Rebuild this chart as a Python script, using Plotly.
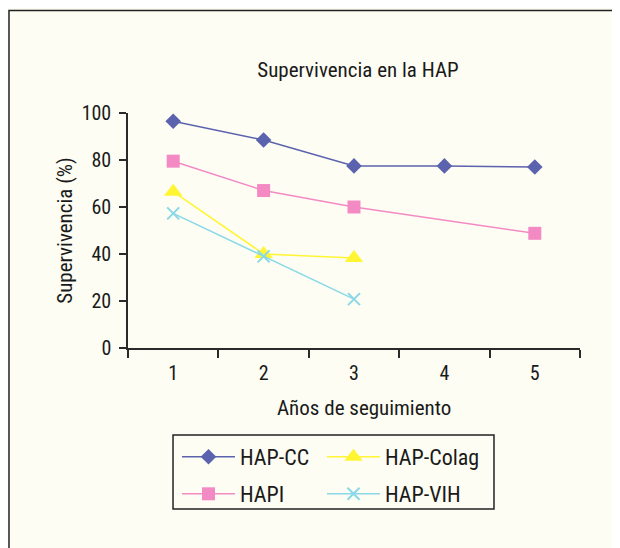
import plotly.graph_objects as go

years = [1, 2, 3, 4, 5]
hap_cc = [96.5, 88.5, 77.5, 77.5, 77]
hapi = [79.5, 67, 60, None, 48.8]
hap_colag = [66.5, 40, 38.3]
hap_vih = [57.3, 39, 20.8]
y_ticks = [0, 20, 40, 60, 80, 100]

FONT = "Liberation Sans Narrow, Roboto Condensed, Arial Narrow, Liberation Sans, sans-serif"
BG = "#fdfdf3"
AX = "#2a2a2a"

fig = go.Figure()
fig.add_trace(go.Scatter(x=years, y=hap_cc, name="HAP-CC", mode="lines+markers", legend="legend",
                         line=dict(color="#5b62ae", width=1.5),
                         marker=dict(symbol="diamond", size=12, color="#5b62ae")))
fig.add_trace(go.Scatter(x=years[:3], y=hap_colag, name="HAP-Colag", mode="lines+markers",
                         legend="legend2",
                         line=dict(color="#fff533", width=1.5),
                         marker=dict(symbol="triangle-up", size=16, color="#fff533")))
fig.add_trace(go.Scatter(x=years, y=hapi, name="HAPI", mode="lines+markers", connectgaps=True,
                         legend="legend3",
                         line=dict(color="#f48ac4", width=1.5),
                         marker=dict(symbol="square", size=13, color="#f48ac4")))
fig.add_trace(go.Scatter(x=years[:3], y=hap_vih, name="HAP-VIH", mode="lines+markers",
                         legend="legend4",
                         line=dict(color="#8ad8e8", width=1.5),
                         marker=dict(symbol="x-thin", size=12, color="#8ad8e8",
                                     line=dict(color="#8ad8e8", width=2))))

leg_common = dict(orientation="v", xanchor="left", yanchor="middle",
                  borderwidth=0, bgcolor="rgba(0,0,0,0)",
                  itemwidth=53, font=dict(size=22))
col1, col2 = 0.1084, 0.4292
row1, row2 = -0.4638, -0.6213

fig.update_layout(
    width=620, height=548,
    margin=dict(l=120, r=48, t=105, b=208),
    paper_bgcolor=BG, plot_bgcolor=BG,
    font=dict(family=FONT, size=18, color="#1a1a1a"),
    title=dict(text="Supervivencia en la HAP", x=350 / 620, xanchor="center",
               y=1 - 62 / 548, yanchor="middle", font=dict(size=21)),
    showlegend=True,
    legend=dict(leg_common, x=col1, y=row1),
    legend2=dict(leg_common, x=col2, y=row1),
    legend3=dict(leg_common, x=col1, y=row2),
    legend4=dict(leg_common, x=col2, y=row2),
    xaxis=dict(range=[0.5, 5.5], tickvals=years, ticktext=[str(v) for v in years],
               ticks="", showgrid=False, zeroline=False, showline=True,
               linecolor=AX, linewidth=1.5, tickfont=dict(size=20),
               ticklabelstandoff=6,
               minor=dict(tick0=0.5, dtick=1, ticks="outside", ticklen=8,
                          tickwidth=1.5, tickcolor=AX, showgrid=False)),
    yaxis=dict(range=[0, 100], tickvals=y_ticks, ticks="outside", ticklen=7,
               tickwidth=1.5, tickcolor=AX, showgrid=False, zeroline=False,
               showline=True, linecolor=AX, linewidth=1.5, tickfont=dict(size=20),
               ticklabelstandoff=4,
               title=dict(text="Supervivencia (%)", standoff=3, font=dict(size=21))),
)

# x axis title (slightly right of plot centre, as in the original)
fig.add_annotation(text="Años de seguimiento", xref="paper", yref="paper",
                   x=0.522, y=-0.255, xanchor="center", yanchor="middle",
                   showarrow=False, font=dict(size=21))

# legend box
fig.add_shape(type="rect", xref="paper", yref="paper",
              x0=0.0996, x1=0.8097, y0=-0.6851, y1=-0.3702,
              line=dict(color="#222", width=1.5))

# outer frame (left and top edges visible)
fig.add_shape(type="path", xref="paper", yref="paper",
              path="M -0.2633 -1 L -0.2633 1.4362 L 1.2 1.4362",
              line=dict(color="#222", width=1.5))

fig.write_html("out.html")
